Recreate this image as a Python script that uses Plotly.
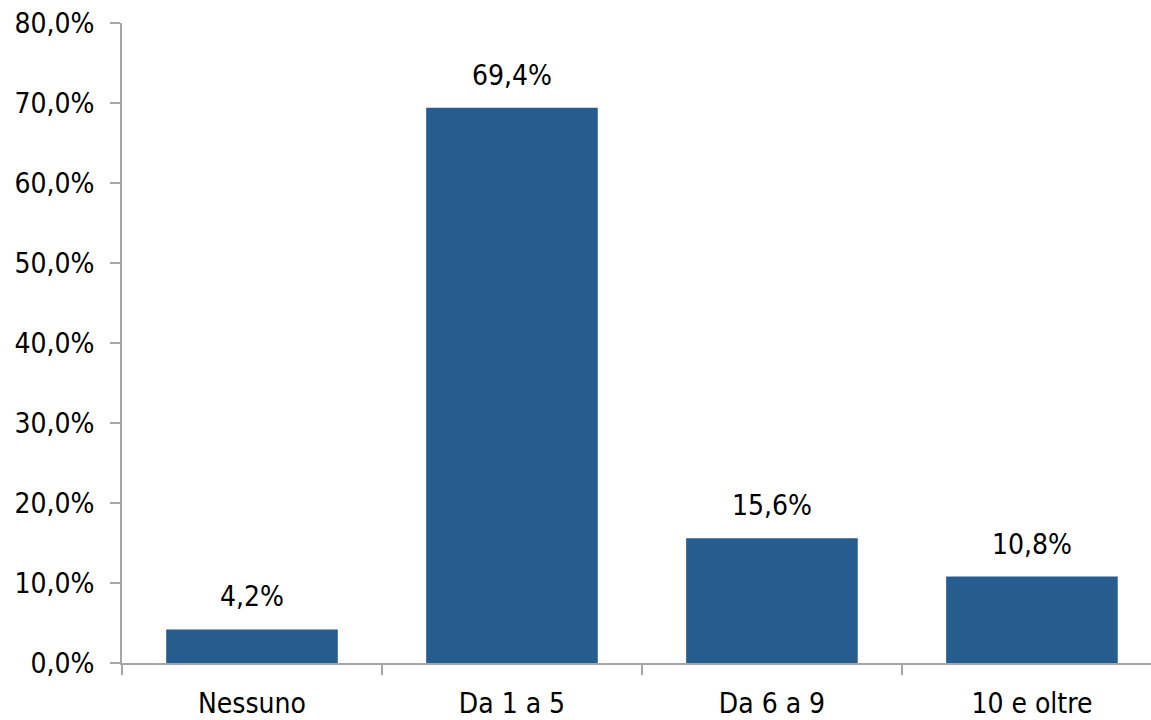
import plotly.graph_objects as go

categories = ["Nessuno", "Da 1 a 5", "Da 6 a 9", "10 e oltre"]
values = [4.2, 69.4, 15.6, 10.8]
y_ticks = [0, 10, 20, 30, 40, 50, 60, 70, 80]
y_tick_labels = ["0,0%", "10,0%", "20,0%", "30,0%", "40,0%", "50,0%", "60,0%", "70,0%", "80,0%"]

FONT = "DejaVu Sans Condensed, DejaVu Sans, sans-serif"
BAR_COLOR = "#265C8E"
AXIS_COLOR = "#A6A6A6"


def fmt(v):
    return f"{v:.1f}".replace(".", ",") + "%"


fig = go.Figure()
fig.add_trace(go.Bar(
    x=categories,
    y=values,
    width=0.66,
    marker=dict(color=BAR_COLOR, line=dict(width=0)),
    hoverinfo="skip",
))

for cat, v in zip(categories, values):
    fig.add_annotation(
        x=cat, y=v, text=fmt(v), showarrow=False,
        xanchor="center", yanchor="bottom", yshift=14,
        font=dict(family=FONT, size=28, color="#000000"),
    )

fig.update_layout(
    width=1151, height=720,
    margin=dict(l=122, r=0, t=23, b=57),
    paper_bgcolor="white", plot_bgcolor="white",
    showlegend=False,
    font=dict(family=FONT, size=28, color="#000000"),
)

fig.update_xaxes(
    type="category",
    range=[-0.5, 3.458],
    showline=True, linecolor=AXIS_COLOR, linewidth=2,
    ticks="outside", ticklen=10, tickwidth=2, tickcolor=AXIS_COLOR,
    tickson="boundaries",
    ticklabelstandoff=14,
    showgrid=False, zeroline=False,
    tickfont=dict(family=FONT, size=28, color="#000000"),
)

fig.update_yaxes(
    range=[0, 80],
    tickvals=y_ticks, ticktext=y_tick_labels,
    showline=True, linecolor=AXIS_COLOR, linewidth=2,
    ticks="outside", ticklen=10, tickwidth=2, tickcolor=AXIS_COLOR,
    ticklabelstandoff=10,
    showgrid=False, zeroline=False,
    tickfont=dict(family=FONT, size=28, color="#000000"),
)

fig.write_html("out.html")
